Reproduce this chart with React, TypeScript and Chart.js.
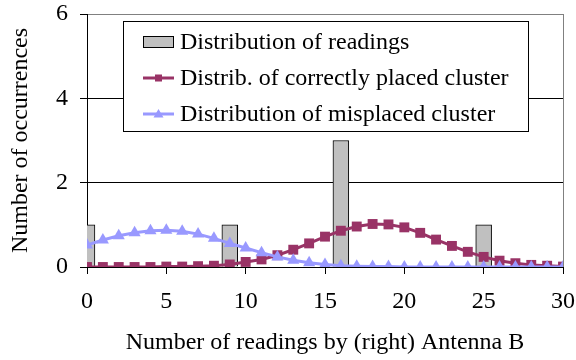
import React, { useEffect, useRef } from "react";
import { Chart, registerables } from "chart.js";

Chart.register(...registerables);

const xPositions = [0, 1, 2, 3, 4, 5, 6, 7, 8, 9, 10, 11, 12, 13, 14, 15, 16, 17, 18, 19, 20, 21, 22, 23, 24, 25, 26, 27, 28, 29, 30];
const readingPositions = [0, 9, 16, 25];
const readingCounts = [1, 1, 3, 1];
const correctCluster = [0, 0, 0, 0, 0, 0.01, 0.01, 0.02, 0.03, 0.06, 0.12, 0.18, 0.28, 0.41, 0.56, 0.72, 0.86, 0.96, 1.02, 1.01, 0.94, 0.81, 0.65, 0.5, 0.36, 0.24, 0.15, 0.09, 0.05, 0.03, 0.01];
const misplacedCluster = [0.52, 0.64, 0.74, 0.81, 0.86, 0.87, 0.85, 0.78, 0.68, 0.56, 0.45, 0.34, 0.24, 0.16, 0.1, 0.06, 0.03, 0.02, 0.01, 0.01, 0, 0, 0, 0, 0, 0, 0, 0, 0, 0, 0];
const yTicks = [0, 2, 4, 6];
const xTicks = [0, 5, 10, 15, 20, 25, 30];

const seriesLabels = [
  "Distribution of readings",
  "Distrib. of correctly placed cluster",
  "Distribution of misplaced cluster",
];

const FONT = "'Liberation Serif', 'Times New Roman', serif";
const FSIZE = 24;
const BAR_FILL = "#C0C0C0";
const MAROON = "#993366";
const LAVENDER = "#9999FF";

const legendPlugin = {
  id: "boxLegend",
  afterDraw(chart: any) {
    const ctx = chart.ctx;
    ctx.save();
    const bx = 123.5, by = 21.5, bw = 405, bh = 110;
    ctx.fillStyle = "#fff";
    ctx.fillRect(bx, by, bw, bh);
    ctx.strokeStyle = "#000";
    ctx.lineWidth = 1;
    ctx.strokeRect(bx, by, bw, bh);
    const rows = [42, 78, 114];
    const sx0 = 143, sx1 = 174;
    ctx.fillStyle = BAR_FILL;
    ctx.fillRect(sx0 + 0.5, rows[0] - 5.5, sx1 - sx0 - 1, 11);
    ctx.strokeRect(sx0 + 0.5, rows[0] - 5.5, sx1 - sx0 - 1, 11);
    ctx.strokeStyle = MAROON;
    ctx.lineWidth = 3;
    ctx.beginPath();
    ctx.moveTo(sx0, rows[1]);
    ctx.lineTo(sx1, rows[1]);
    ctx.stroke();
    ctx.fillStyle = MAROON;
    ctx.fillRect((sx0 + sx1) / 2 - 3.5, rows[1] - 3.5, 7, 7);
    ctx.strokeStyle = LAVENDER;
    ctx.beginPath();
    ctx.moveTo(sx0, rows[2]);
    ctx.lineTo(sx1, rows[2]);
    ctx.stroke();
    ctx.fillStyle = LAVENDER;
    const cx = (sx0 + sx1) / 2;
    ctx.beginPath();
    ctx.moveTo(cx, rows[2] - 5);
    ctx.lineTo(cx + 5, rows[2] + 3.5);
    ctx.lineTo(cx - 5, rows[2] + 3.5);
    ctx.closePath();
    ctx.fill();
    ctx.fillStyle = "#000";
    ctx.font = `${FSIZE}px ${FONT}`;
    ctx.textBaseline = "middle";
    ctx.textAlign = "left";
    seriesLabels.forEach((t, i) => ctx.fillText(t, 180, rows[i] + 1));
    ctx.restore();
  },
};

export default function App() {
  const ref = useRef<HTMLCanvasElement | null>(null);
  useEffect(() => {
    if (!ref.current) return;
    const barData = xPositions.map((x) => {
      const idx = readingPositions.indexOf(x);
      return { x, y: idx >= 0 ? readingCounts[idx] : null };
    });
    const chart = new Chart(ref.current, {
      type: "bar",
      data: {
        datasets: [
          {
            type: "bar",
            label: seriesLabels[0],
            data: barData as any,
            backgroundColor: BAR_FILL,
            borderColor: "#000",
            borderWidth: 1,
            barPercentage: 1,
            categoryPercentage: 1,
            clip: 0,
            order: 3,
          },
          {
            type: "line",
            label: seriesLabels[1],
            data: xPositions.map((x, i) => ({ x, y: correctCluster[i] })),
            borderColor: MAROON,
            backgroundColor: MAROON,
            borderWidth: 3,
            pointStyle: "rect",
            pointRadius: 7,
            pointBorderWidth: 0,
            order: 2,
          },
          {
            type: "line",
            label: seriesLabels[2],
            data: xPositions.map((x, i) => ({ x, y: misplacedCluster[i] })),
            borderColor: LAVENDER,
            backgroundColor: LAVENDER,
            borderWidth: 3,
            pointStyle: "triangle",
            pointRadius: 7,
            pointBorderWidth: 0,
            order: 1,
          },
        ],
      },
      options: {
        animation: false,
        responsive: true,
        maintainAspectRatio: false,
        layout: { padding: { top: 14, right: 13, left: 0, bottom: 0 } },
        plugins: { legend: { display: false }, tooltip: { enabled: false } },
        scales: {
          x: {
            type: "linear",
            min: 0,
            max: 30,
            offset: false,
            afterFit: (s: any) => {
              s.height = 93;
              s.paddingLeft = 0;
              s.paddingRight = 0;
            },
            afterBuildTicks: (s: any) => {
              s.ticks = xTicks.map((v) => ({ value: v }));
            },
            ticks: {
              font: { family: FONT, size: FSIZE },
              color: "#000",
              padding: 13,
              maxRotation: 0,
            },
            grid: {
              offset: false,
              color: (c: any) => (c.tick && c.tick.value === 30 ? "#808080" : "rgba(0,0,0,0)"),
              tickColor: "#000",
              tickLength: 7,
              lineWidth: 1,
            },
            border: { display: true, color: "#000", width: 1 },
            title: {
              display: true,
              text: "Number of readings by (right) Antenna B",
              font: { family: FONT, size: FSIZE },
              color: "#000",
              padding: { top: 0, bottom: 3 },
            },
          },
          y: {
            type: "linear",
            min: 0,
            max: 6,
            afterFit: (s: any) => {
              s.width = 87;
              s.paddingTop = 0;
              s.paddingBottom = 0;
            },
            afterBuildTicks: (s: any) => {
              s.ticks = yTicks.map((v) => ({ value: v }));
            },
            ticks: {
              font: { family: FONT, size: FSIZE },
              color: "#000",
              padding: 12,
            },
            grid: {
              color: (c: any) => (c.tick && c.tick.value === 6 ? "#808080" : "#000"),
              tickColor: "#000",
              tickLength: 7,
              lineWidth: 1,
            },
            border: { display: true, color: "#000", width: 1 },
            title: {
              display: true,
              text: "Number of occurrences",
              font: { family: FONT, size: FSIZE },
              color: "#000",
              padding: { top: 6, bottom: 0 },
            },
          },
        },
      },
      plugins: [legendPlugin],
    });
    return () => chart.destroy();
  }, []);
  return (
    <div style={{ position: "absolute", left: 0, top: 0, width: 576, height: 360, background: "#fff" }}>
      <canvas ref={ref} />
    </div>
  );
}
